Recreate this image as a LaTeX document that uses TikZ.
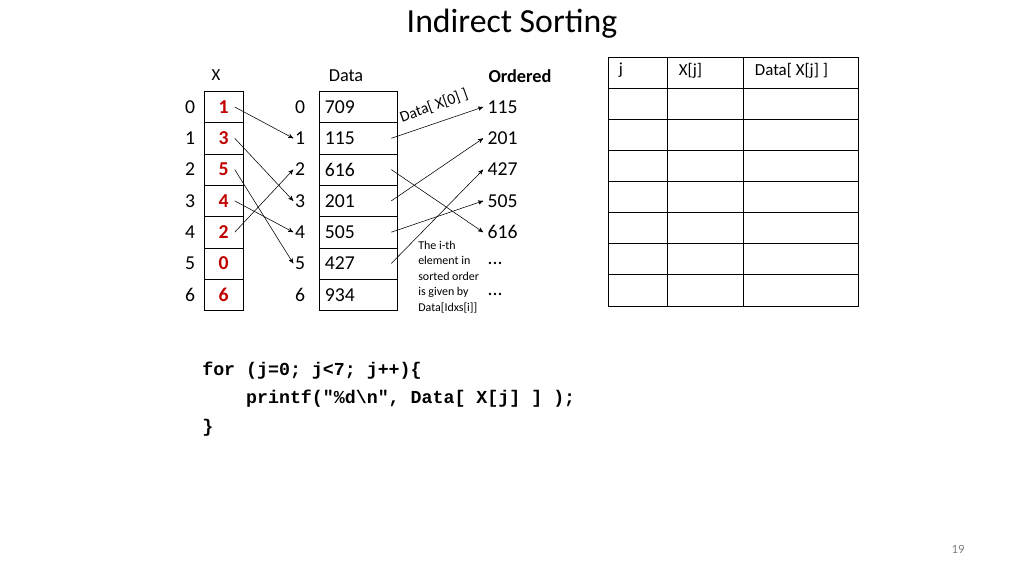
\documentclass[tikz,border=0pt]{standalone}
\usepackage{fontspec}
\setmainfont{Carlito}
\setmonofont{Liberation Mono}
\usetikzlibrary{positioning,arrows}
\definecolor{idxred}{RGB}{192,0,0}

\begin{document}
\begin{tikzpicture}[x=0.025cm, y=-0.025cm,
    cell/.style={rectangle, draw, minimum height=0.78cm, inner sep=0pt, font=\fontsize{14}{16}\selectfont},
    xcell/.style={cell, minimum width=0.975cm, text=idxred, font=\fontsize{14}{16}\selectfont\bfseries},
    dcell/.style={cell, minimum width=1.95cm, text width=1.65cm, align=left},
    idx/.style={font=\fontsize{14}{16}\selectfont, inner sep=1pt},
    tcell/.style={rectangle, draw, minimum height=0.78cm, inner sep=0pt},
    lab/.style={font=\fontsize{12}{14}\selectfont},
    arrow/.style={->, >=stealth', thin}
]
    \useasboundingbox (0,0) rectangle (1024,576);
    \node[font=\fontsize{24}{28}\selectfont] (title) at (512,24) {Indirect Sorting};

    % X and Data columns
    \node[lab] (xhead) at (216,75) {X};
    \node[lab, font=\fontsize{13}{15}\selectfont] (dhead) at (346,76) {Data};
    \node[lab, font=\fontsize{13}{15}\selectfont\bfseries] (ohead) at (520,76) {Ordered};
    \foreach \v [count=\i from 0] in {1,3,5,4,2,0,6} {
        \node[xcell] (x\i) at (223.5,107+31.3*\i) {\v};
        \node[idx] (xi\i) at (190,107+31.3*\i) {\i};
        \node[idx] (di\i) at (300,107+31.3*\i) {\i};
    }
    \foreach \v [count=\i from 0] in {709,115,616,201,505,427,934} {
        \node[dcell] (d\i) at (358,107+31.3*\i) {\v};
    }
    \foreach \v [count=\i from 0] in {115,201,427,505,616} {
        \node[idx, anchor=west] (o\i) at (486,107+31.3*\i) {\v};
    }
    \node[idx, anchor=west] (o5) at (486,263) {...};
    \node[idx, anchor=west] (o6) at (486,294) {...};
    \node[font=\fontsize{8.5}{11}\selectfont, align=left, anchor=west, inner sep=0pt] (note) at (418,277) {The i-th\\element in\\sorted order\\is given by\\Data[Idxs[i]]};

    % X -> Data index
    \foreach \a/\b in {0/1,1/3,2/5,3/4,4/2} {
        \draw[arrow] ([xshift=8pt]x\a.center) -- (di\b.west);
    }
    % Data -> Ordered
    \foreach \a/\b in {1/0,3/1,5/2,4/3,2/4} {
        \draw[arrow] ([xshift=-0.15cm]d\a.east) -- ([xshift=-2pt]o\b.west);
    }
    \node[font=\fontsize{11}{13}\selectfont, rotate=20, inner sep=1pt] (xlab) at (434,106) {Data[ X[0] ]};

    % table on the right
    \node[lab, anchor=north west] (tj) at (614,58) {j};
    \node[lab, anchor=north west] (txj) at (674,58) {X[j]};
    \node[lab, anchor=north west] (tdxj) at (750,58) {Data[ X[j] ]};
    \foreach \r in {0,...,7} {
        \node[tcell, minimum width=1.475cm] (ta\r) at (637.5,72.5+31.1*\r) {};
        \node[tcell, minimum width=1.9cm] (tb\r) at (705,72.5+31.1*\r) {};
        \node[tcell, minimum width=2.875cm] (tc\r) at (800.5,72.5+31.1*\r) {};
    }

    % code
    \node[font=\fontsize{13}{20}\selectfont\ttfamily\bfseries, align=left, anchor=north west, inner sep=0pt] (code) at (202,362)
      {for (j=0; j<7; j++)\{\\\hspace*{2.4em}printf("\%d\textbackslash n", Data[ X[j] ] );\\\}};

    \node[font=\fontsize{9}{11}\selectfont, text=gray] (page) at (958,549) {19};
\end{tikzpicture}
\end{document}
